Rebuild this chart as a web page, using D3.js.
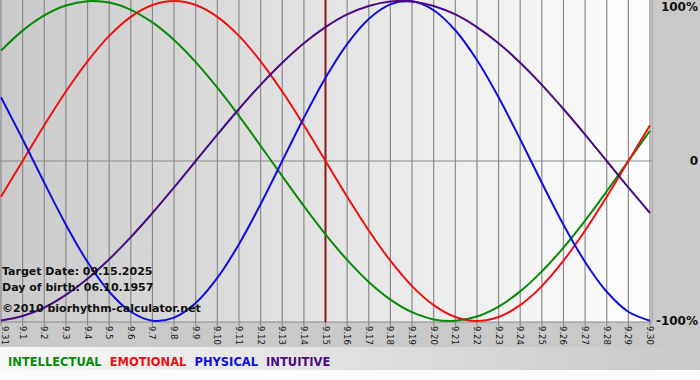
<!DOCTYPE html>
<html>
<head>
<meta charset="utf-8">
<script src="https://cdn.jsdelivr.net/npm/d3@7"></script>
<style>
  html, body { margin: 0; padding: 0; background: #ffffff; }
  svg { display: block; font-family: 'DejaVu Sans', Verdana, sans-serif; }
</style>
</head>
<body>
<div id="view"></div>
<script>
'use strict';

// day labels along the bottom (first one sits on the left edge in the original)
const dayLabels = ['9.31', '9.1', '9.2', '9.3', '9.4', '9.5', '9.6', '9.7', '9.8', '9.9', '9.10',
  '9.11', '9.12', '9.13', '9.14', '9.15', '9.16', '9.17', '9.18', '9.19', '9.20',
  '9.21', '9.22', '9.23', '9.24', '9.25', '9.26', '9.27', '9.28', '9.29', '9.30'];

const physical = [0.398, 0.136, -0.136, -0.398, -0.631, -0.817, -0.942, -0.998, -0.979, -0.888, -0.731,
  -0.520, -0.270, 0, 0.270, 0.520, 0.731, 0.888, 0.979, 0.998, 0.942,
  0.817, 0.631, 0.398, 0.136, -0.136, -0.398, -0.631, -0.817, -0.942, -0.998];

const emotional = [-0.223, 0, 0.223, 0.434, 0.623, 0.782, 0.901, 0.975, 1, 0.975, 0.901,
  0.782, 0.623, 0.434, 0.223, 0, -0.223, -0.434, -0.623, -0.782, -0.901,
  -0.975, -1, -0.975, -0.901, -0.782, -0.623, -0.434, -0.223, 0, 0.223];

const intellectual = [0.690, 0.815, 0.910, 0.972, 0.999, 0.990, 0.945, 0.866, 0.756, 0.618, 0.458,
  0.282, 0.095, -0.095, -0.282, -0.458, -0.618, -0.756, -0.866, -0.945, -0.990,
  -0.999, -0.972, -0.910, -0.815, -0.690, -0.541, -0.372, -0.189, 0, 0.189];

const intuitive = [-0.997, -0.969, -0.916, -0.837, -0.736, -0.614, -0.476, -0.325, -0.165, 0, 0.165,
  0.325, 0.476, 0.614, 0.736, 0.837, 0.916, 0.969, 0.997, 0.997, 0.969,
  0.916, 0.837, 0.736, 0.614, 0.476, 0.325, 0.165, 0, -0.165, -0.325];

const targetIndex = 15;
const yTicks = [{ v: 1, label: '100%' }, { v: 0, label: '0' }, { v: -1, label: '-100%' }];
const infoLines = ['Target Date: 09.15.2025', 'Day of birth: 06.10.1957', '\u00A92010 biorhythm-calculator.net'];

const series = [
  { name: 'INTELLECTUAL', values: intellectual, color: '#078a07' },
  { name: 'EMOTIONAL', values: emotional, color: '#ee1111' },
  { name: 'PHYSICAL', values: physical, color: '#1010dd' },
  { name: 'INTUITIVE', values: intuitive, color: '#4b0a82' }
];

const size = { w: 700, h: 380 };
const plot = { x0: 1, x1: 650, top: 0, bottom: 322, right: 652 };

const presentation = {
  fill_panel: '#c9c9c9',
  stroke_grid: '#8a8a8a',
  stroke_target: '#8b1a1a',
  fill_text: '#111111'
};

const x = d3.scaleLinear().domain([0, dayLabels.length - 1]).range([plot.x0, plot.x1]);
const y = d3.scaleLinear().domain([-1, 1]).range([321, 1]);

const svg = d3.select('#view').append('svg')
  .attr('width', size.w)
  .attr('height', size.h);

const defs = svg.append('defs');

const gradPlot = defs.append('linearGradient').attr('id', 'gradPlot');
gradPlot.append('stop').attr('offset', '0%').attr('stop-color', '#cacaca');
gradPlot.append('stop').attr('offset', '100%').attr('stop-color', '#fefefe');

const gradLegend = defs.append('linearGradient').attr('id', 'gradLegend');
gradLegend.append('stop').attr('offset', '0%').attr('stop-color', '#f8f8f8');
gradLegend.append('stop').attr('offset', '100%').attr('stop-color', '#c9c9c9');

// backgrounds
svg.append('rect')
  .attr('width', size.w).attr('height', size.h)
  .attr('fill', presentation.fill_panel);

svg.append('rect')
  .attr('x', 0).attr('y', plot.top)
  .attr('width', plot.right).attr('height', plot.bottom - plot.top)
  .attr('fill', 'url(#gradPlot)');

svg.append('rect')
  .attr('x', 0).attr('y', 347)
  .attr('width', size.w).attr('height', 23)
  .attr('fill', 'url(#gradLegend)');

svg.append('rect')
  .attr('x', 0).attr('y', 370)
  .attr('width', size.w).attr('height', 10)
  .attr('fill', '#fbfbfb');

// vertical day grid, a little past the plot bottom
svg.append('g')
  .selectAll('line')
  .data(dayLabels)
  .join('line')
  .attr('x1', (d, i) => x(i))
  .attr('x2', (d, i) => x(i))
  .attr('y1', plot.top)
  .attr('y2', plot.bottom + 4)
  .attr('stroke', presentation.stroke_grid)
  .attr('stroke-width', 1.2);

// zero line and bottom line
svg.append('line')
  .attr('x1', 0).attr('x2', plot.right)
  .attr('y1', y(0)).attr('y2', y(0))
  .attr('stroke', presentation.stroke_grid).attr('stroke-width', 1.2);

svg.append('line')
  .attr('x1', 0).attr('x2', plot.right)
  .attr('y1', plot.bottom).attr('y2', plot.bottom)
  .attr('stroke', presentation.stroke_grid).attr('stroke-width', 1.2);

svg.append('line')
  .attr('x1', plot.right).attr('x2', plot.right)
  .attr('y1', plot.top).attr('y2', plot.bottom)
  .attr('stroke', presentation.stroke_grid).attr('stroke-width', 1);

// target date marker
svg.append('line')
  .attr('x1', x(targetIndex)).attr('x2', x(targetIndex))
  .attr('y1', plot.top).attr('y2', plot.bottom)
  .attr('stroke', presentation.stroke_target)
  .attr('stroke-width', 2);

// day labels, rotated to read top-down
svg.append('g')
  .selectAll('text')
  .data(dayLabels)
  .join('text')
  .attr('transform', (d, i) => `translate(${Math.max(x(i), 5)},${plot.bottom + 4}) rotate(90)`)
  .attr('dy', '0.35em')
  .attr('font-size', 8.5)
  .attr('fill', presentation.fill_text)
  .text(d => d);

// right-hand percent labels
svg.append('g')
  .selectAll('text')
  .data(yTicks)
  .join('text')
  .attr('x', 698)
  .attr('y', d => Math.min(Math.max(y(d.v), 7), 321))
  .attr('dy', '0.35em')
  .attr('text-anchor', 'end')
  .attr('font-size', 12)
  .attr('font-weight', 'bold')
  .attr('fill', presentation.fill_text)
  .text(d => d.label);

// curves
const line = d3.line()
  .x((d, i) => x(i))
  .y(d => y(d))
  .curve(d3.curveCatmullRom.alpha(0.5));

const gCurves = svg.append('g')
  .attr('fill', 'none')
  .attr('stroke-width', 2);

gCurves.selectAll('path')
  .data(series)
  .join('path')
  .attr('d', s => line(s.values))
  .attr('stroke', s => s.color);

// info text over the plot
svg.append('g')
  .selectAll('text')
  .data(infoLines)
  .join('text')
  .attr('x', 2)
  .attr('y', (d, i) => [275, 291, 312][i])
  .attr('font-size', 11)
  .attr('font-weight', 'bold')
  .attr('fill', presentation.fill_text)
  .text(d => d);

// legend
const legend = svg.append('text')
  .attr('x', 8)
  .attr('y', 366)
  .attr('font-size', 11.5)
  .attr('font-weight', 'bold');

series.forEach((s, i) => {
  legend.append('tspan')
    .attr('dx', i ? 8 : 0)
    .attr('fill', s.color)
    .text(s.name);
});
</script>
</body>
</html>
